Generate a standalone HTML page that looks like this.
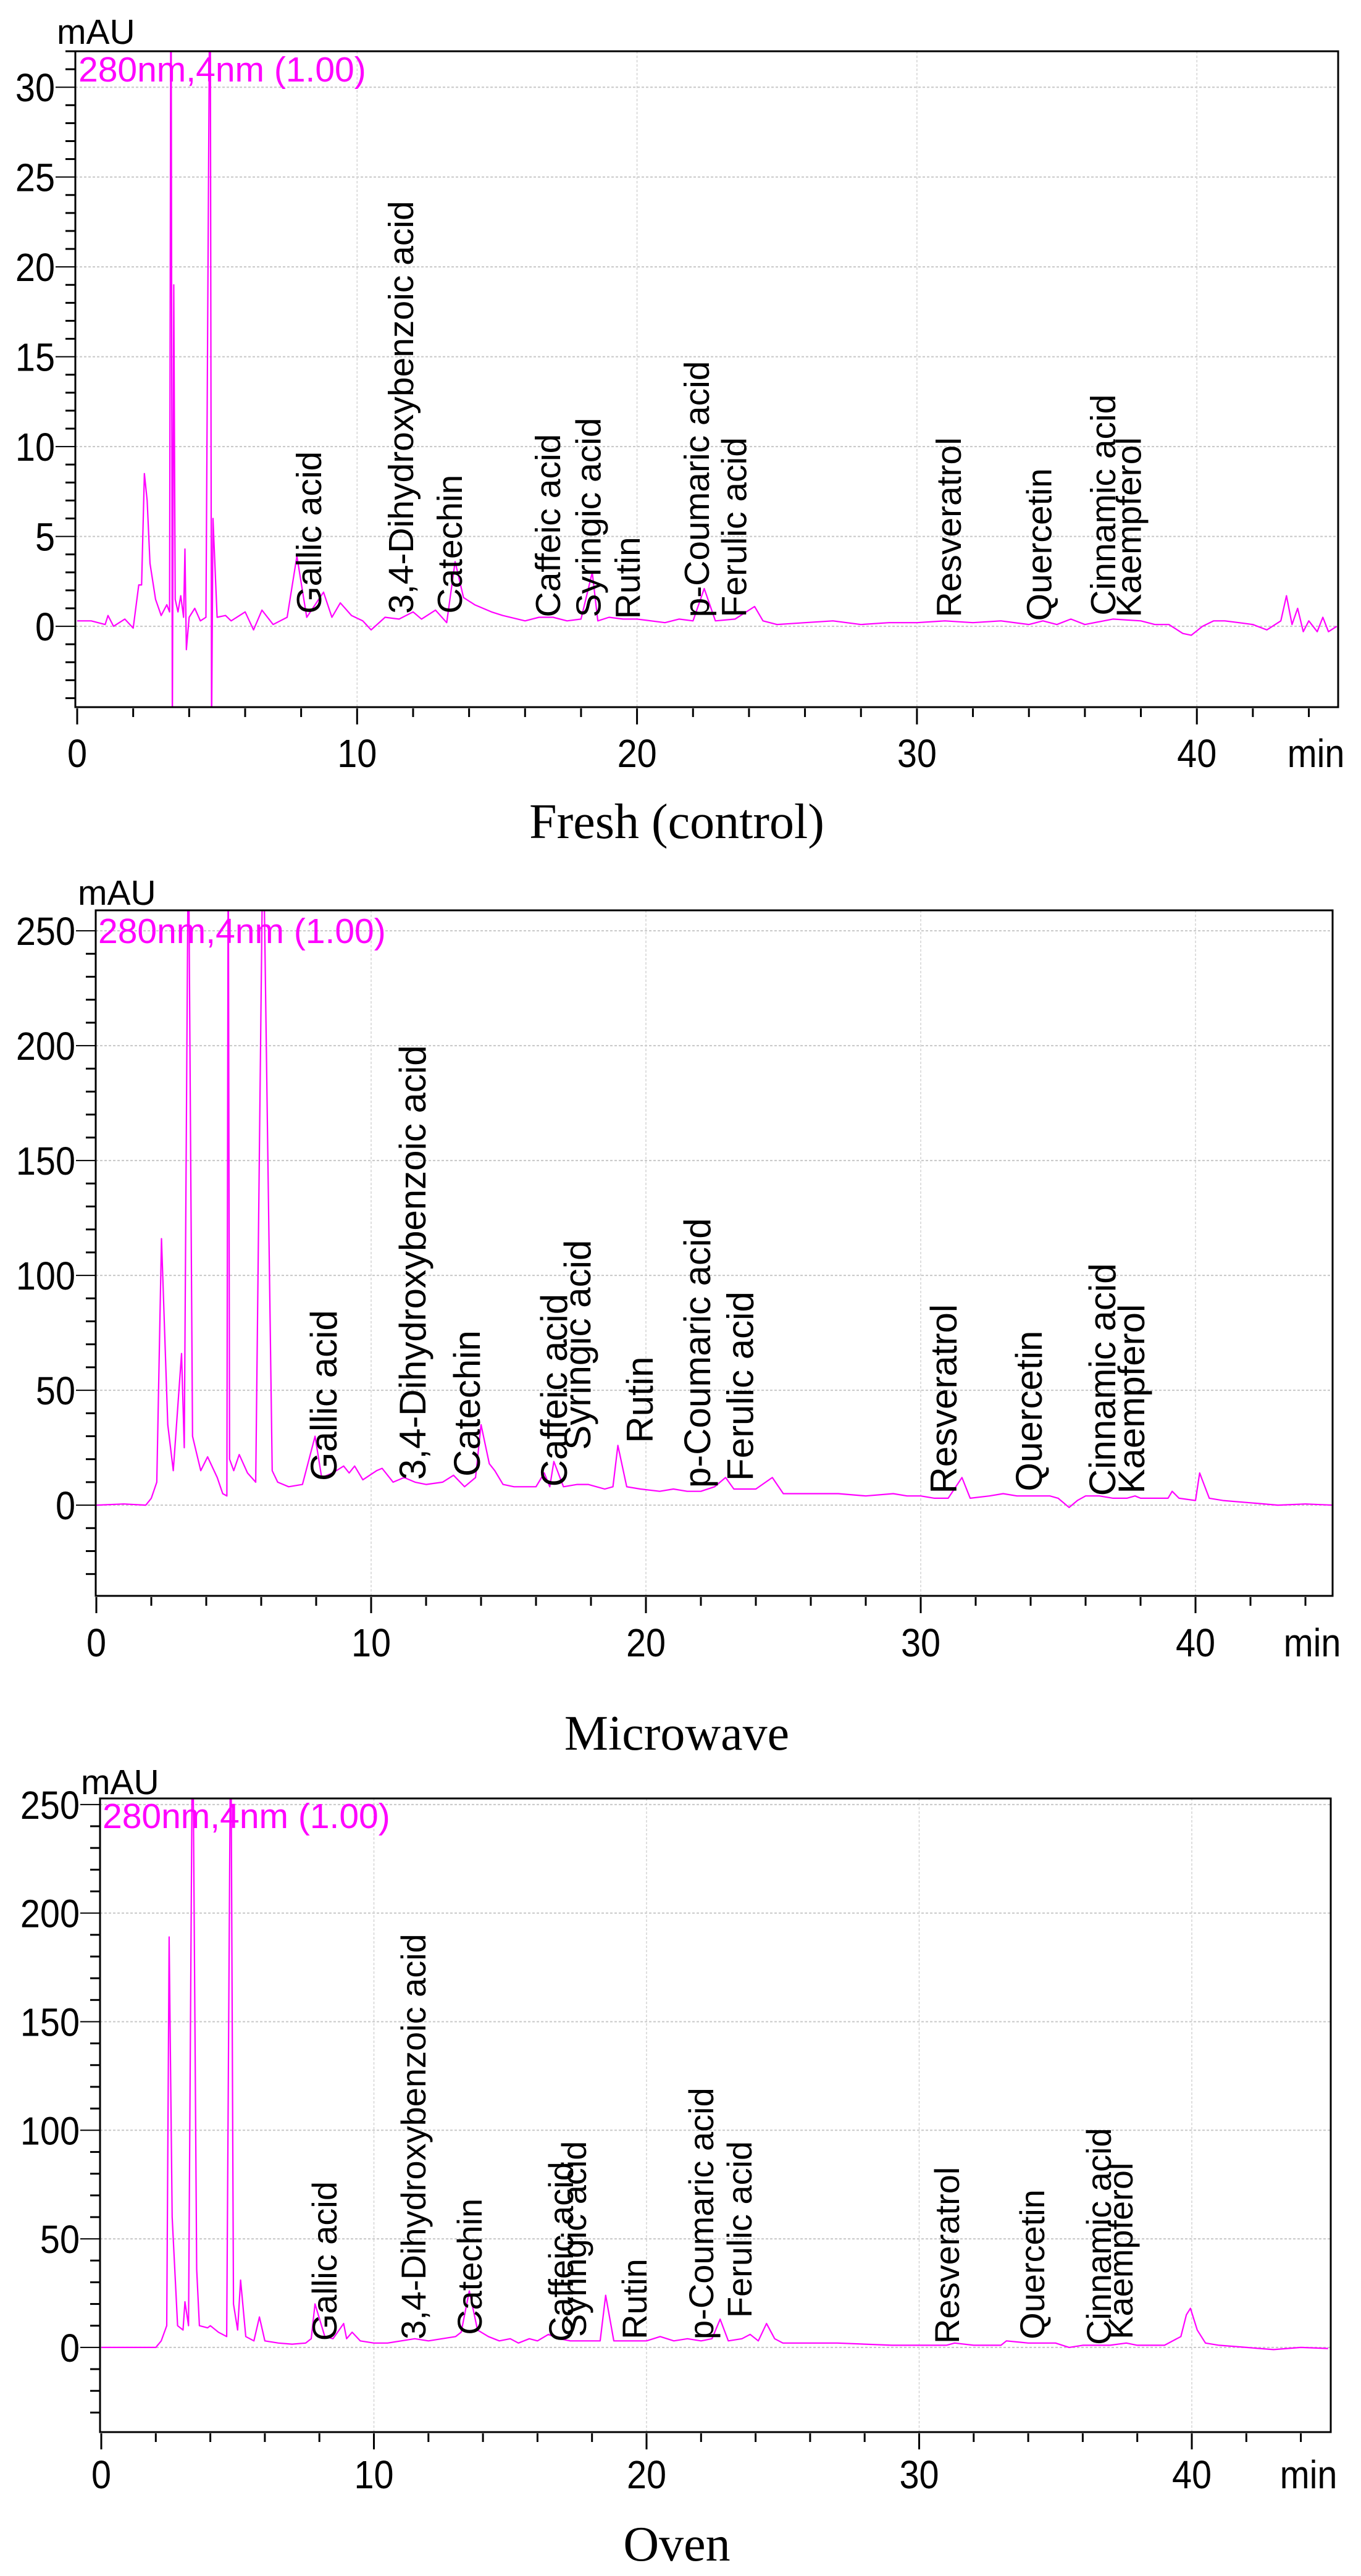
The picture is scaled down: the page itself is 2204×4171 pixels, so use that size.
<!DOCTYPE html>
<html><head><meta charset="utf-8">
<style>
html,body{margin:0;padding:0;background:#fff;}
svg{display:block;}
</style></head>
<body>
<svg id="chart" width="2204" height="4171" viewBox="0 0 2204 4171" xmlns="http://www.w3.org/2000/svg"></svg>
<script>
// ---------- DATA ----------
const compoundNames = ["Gallic acid","3,4-Dihydroxybenzoic acid","Catechin","Caffeic acid","Syringic acid","Rutin","p-Coumaric acid","Ferulic acid","Resveratrol","Quercetin","Cinnamic acid","Kaempferol"];

// Fresh (control)
const freshTimes = [0,0.5,1.0,1.1,1.3,1.7,2.0,2.2,2.3,2.4,2.5,2.6,2.8,3.0,3.2,3.3,3.35,3.4,3.45,3.5,3.6,3.7,3.8,3.85,3.9,4.0,4.2,4.4,4.6,4.75,4.8,4.85,5.0,5.3,5.5,6.0,6.3,6.6,7.0,7.5,7.85,8.2,8.8,9.1,9.4,9.8,10.2,10.5,11,11.5,12,12.3,12.8,13.2,13.5,13.8,14.2,14.8,15.2,16,16.5,17,17.5,18,18.4,18.6,19,19.5,20,21,21.5,22,22.4,22.8,23.5,24.2,24.5,25,26,27,28,29,30,31,32,33,34,34.5,35,35.5,36,37,38,38.5,39,39.5,39.8,40.2,40.6,41,41.5,42,42.5,43,43.2,43.4,43.6,43.8,44,44.3,44.5,44.7,45];
const freshValues = [0.3,0.3,0.1,0.6,0.0,0.4,-0.1,2.3,2.3,8.5,7.0,3.5,1.5,0.6,1.2,0.8,40,-6,19,1.5,0.8,1.7,0.5,4.3,-1.3,0.5,1.0,0.3,0.5,40,-6,6,0.5,0.6,0.3,0.8,-0.2,0.9,0.1,0.5,3.9,0.5,1.9,0.5,1.3,0.6,0.3,-0.2,0.5,0.4,0.8,0.4,0.9,0.2,3.6,1.6,1.2,0.8,0.6,0.3,0.5,0.5,0.3,0.4,3.0,0.3,0.5,0.4,0.4,0.2,0.4,0.3,2.1,0.3,0.4,1.1,0.3,0.1,0.2,0.3,0.1,0.2,0.2,0.3,0.2,0.3,0.1,0.3,0.1,0.4,0.1,0.4,0.3,0.1,0.1,-0.4,-0.5,0.0,0.3,0.3,0.2,0.1,-0.2,0.3,1.7,0.1,1.0,-0.3,0.3,-0.3,0.5,-0.3,0.0];
const freshLabelTimes = [8.71,12.0,13.74,17.25,18.7,20.1,22.57,23.9,31.57,34.8,37.08,38.0];
const freshLabelBase = [0.7,0.7,0.7,0.5,0.5,0.4,0.5,0.5,0.5,0.3,0.6,0.5];

// Microwave
const microTimes = [0,1.0,1.8,2.0,2.2,2.37,2.6,2.8,3.1,3.2,3.35,3.5,3.6,3.8,4.05,4.4,4.6,4.75,4.8,4.85,5.0,5.2,5.5,5.8,6.07,6.4,6.6,7,7.5,7.96,8.2,8.6,9.0,9.2,9.4,9.7,10.2,10.4,10.8,11.2,11.6,12,12.6,13.0,13.4,13.8,14.0,14.3,14.5,14.8,15.2,16,16.3,16.5,16.65,17,17.5,17.9,18.2,18.5,18.8,18.98,19.3,19.8,20.5,21,21.5,22,22.5,22.9,23.2,24,24.6,25,26,27,28,29,29.5,30,30.5,31,31.5,31.8,32.5,33,33.5,34,34.7,35,35.4,35.7,36,36.5,37,37.5,37.8,38,39,39.15,39.4,40,40.15,40.5,41,42,43,44,45];
const microValues = [0,0.5,0,3,10,116,35,15,66,25,300,30,25,15,21,12,5,4,300,20,15,22,14,10,300,15,10,8,9,30,12,14,17,14,17,11,15,16,10,12,10,9,10,13,8,12,35,18,15,9,8,8,14,8,19,8,9,9,8,7,8,26,8,7,6,7,6,6,8,12,7,7,12,5,5,5,4,5,4,4,3,3,12,3,4,5,4,4,4,3,-1,2,4,4,3,3,4,3,3,6,3,2,14,3,2,1,0,0.5,0];
const microLabelTimes = [8.74,11.98,13.96,17.12,17.98,20.25,22.34,23.9,31.3,34.4,37.08,38.13];
const microLabelBase = [10.5,11,12.4,8,24,27,7.5,10.5,5,6,4,5];

// Oven
const ovenTimes = [0,1.0,2.0,2.2,2.4,2.49,2.6,2.8,3.0,3.07,3.2,3.35,3.5,3.6,3.9,4.0,4.3,4.6,4.75,4.85,5.0,5.11,5.3,5.6,5.8,6.0,6.5,7,7.5,7.7,7.84,8.2,8.5,8.89,9.0,9.2,9.5,10,10.5,11,11.5,12,12.5,13,13.2,13.5,13.8,14.2,14.6,15,15.3,15.7,16,16.4,16.8,17.2,18,18.3,18.5,18.8,19.5,20,20.5,21,21.5,22,22.4,22.7,23,23.5,23.8,24.1,24.4,24.7,25,26,27,28,29,30,31,31.3,32,33,33.2,34,35,35.5,36,37,37.6,38,39,39.6,39.8,39.95,40.2,40.5,41,42,43,44,45];
const ovenValues = [0,0,0,3,10,189,60,10,8,21,10,300,36,10,9,10,7,5,300,20,8,31,5,3,14,3,2,1.5,2,4,20,5,4,11,4,7,3,2,2,3,4,3,4,5,7,26,8,5,3,4,2,4,3,6,4,3,3,3,24,3,3,3,5,3,4,3,4,13,3,4,6,3,11,4,2,2,2,1.5,1,1,1,2,1,1,3,2,2,0,1,1,2,1,1,5,15,18,8,2,1,0,-1,0,-0.5];
const ovenLabelTimes = [8.63,11.89,13.95,17.3,17.78,20.0,22.45,23.85,31.46,34.59,37.03,37.83];
const ovenLabelBase = [3,3.7,5.7,2.6,4.8,3.7,3.7,13.6,1.7,3.7,1.1,3.7];

const yTicksFresh = [0,5,10,15,20,25,30];
const yTicks250 = [0,50,100,150,200,250];
const xTicks = [0,10,20,30,40];

// ---------- LAYOUT ----------
const NS = "http://www.w3.org/2000/svg";
const svg = document.getElementById('chart');
const MAG = "#ff00ff";

const panels = [
  {key:'fresh', title:'Fresh (control)', times:freshTimes, values:freshValues, lt:freshLabelTimes, lb:freshLabelBase, yTicks:yTicksFresh, yMinorStep:1,
   left:122, right:2167, top:83, bottom:1145, x0px:125, xpx:45.33, ymin:-4.5, ymax:32.0, labFont:57,
   mauX:92, mauY:71, nmX:127, nmY:132, tickLabY:1242, minX:2131, titleY:1357},
  {key:'microwave', title:'Microwave', times:microTimes, values:microValues, lt:microLabelTimes, lb:microLabelBase, yTicks:yTicks250, yMinorStep:10,
   left:155, right:2158, top:1474, bottom:2584, x0px:156, xpx:44.5, ymin:-39.5, ymax:258.9, labFont:60,
   mauX:126, mauY:1465, nmX:159, nmY:1527, tickLabY:2682, minX:2125, titleY:2833},
  {key:'oven', title:'Oven', times:ovenTimes, values:ovenValues, lt:ovenLabelTimes, lb:ovenLabelBase, yTicks:yTicks250, yMinorStep:10,
   left:162, right:2155, top:2912, bottom:3938, x0px:164, xpx:44.15, ymin:-39, ymax:252.8, labFont:56,
   mauX:131, mauY:2905, nmX:166, nmY:2960, tickLabY:4029, minX:2119, titleY:4146}
];

function mk(tag, attrs, parent){
  const e = document.createElementNS(NS, tag);
  for (const k in attrs) e.setAttribute(k, attrs[k]);
  (parent||svg).appendChild(e);
  return e;
}
// narrow tick-label text: scale horizontally around anchor point
function narrowText(parent, x, y, anchor, str, size){
  const t = mk('text', {x:0, y:0, 'text-anchor':anchor, 'font-family':'Liberation Sans, sans-serif', 'font-size':size, fill:'#000',
    transform:'translate(' + x.toFixed(1) + ' ' + y.toFixed(1) + ') scale(0.9 1)'}, parent);
  t.textContent = str;
  return t;
}

panels.forEach((p, pi) => {
  const xs = t => p.x0px + t * p.xpx;
  const ys = v => p.bottom - (v - p.ymin) / (p.ymax - p.ymin) * (p.bottom - p.top);

  const g = mk('g', {});
  
  

  const defs = mk('defs', {}, g);
  const cp = mk('clipPath', {id:'clip' + pi}, defs);
  mk('rect', {x:p.left, y:p.top, width:p.right - p.left, height:p.bottom - p.top}, cp);

  p.yTicks.forEach(v => {
    const gl = mk('line', {x1:p.left, x2:p.right, y1:ys(v), y2:ys(v), stroke:'#c8c8c8', 'stroke-width':2, 'stroke-dasharray':'4,3'}, g);
    
    
  });
  xTicks.forEach(t => {
    if (t === 0) return;
    const gl = mk('line', {x1:xs(t), x2:xs(t), y1:p.top, y2:p.bottom, stroke:'#d4d4d4', 'stroke-width':1.5, 'stroke-dasharray':'4,3'}, g);
    
    
  });

  const pts = p.times.map((t, i) => xs(t).toFixed(1) + ',' + ys(p.values[i]).toFixed(1)).join(' ');
  const tr = mk('polyline', {points:pts, fill:'none', stroke:MAG, 'stroke-width':2.2, 'clip-path':'url(#clip' + pi + ')', 'stroke-linejoin':'round'}, g);
  
  

  const fr = mk('rect', {x:p.left, y:p.top, width:p.right - p.left, height:p.bottom - p.top, fill:'none', stroke:'#000', 'stroke-width':3}, g);
  
  

  const yStart = Math.ceil(p.ymin / p.yMinorStep) * p.yMinorStep;
  for (let v = yStart; v <= p.ymax; v += p.yMinorStep) {
    const major = p.yTicks.indexOf(v) >= 0;
    const tk = mk('line', {x1:p.left - (major ? 32 : 16), x2:p.left, y1:ys(v), y2:ys(v), stroke:'#000', 'stroke-width':major ? 2 : 3}, g);
    
    
  }
  p.yTicks.forEach(v => {
    const tl = narrowText(g, p.left - 33, ys(v) + 23, 'end', String(v), 64);
    
    
  });

  for (let t = 0; t <= 45; t += 2) {
    const major = (t % 10 === 0);
    const tk = mk('line', {x1:xs(t), x2:xs(t), y1:p.bottom + 2, y2:p.bottom + (major ? 28 : 16), stroke:'#000', 'stroke-width':3}, g);
    
    
  }
  xTicks.forEach(t => {
    const tl = narrowText(g, xs(t), p.tickLabY, 'middle', String(t), 64);
    
    
  });
  const mn = narrowText(g, p.minX, p.tickLabY, 'middle', 'min', 64);
  
  

  const mau = mk('text', {x:p.mauX, y:p.mauY, 'font-family':'Liberation Sans, sans-serif', 'font-size':57, fill:'#000'}, g);
  mau.textContent = 'mAU';
  
  

  const nm = mk('text', {x:p.nmX, y:p.nmY, 'font-family':'Liberation Sans, sans-serif', 'font-size':57, fill:MAG}, g);
  nm.textContent = '280nm,4nm (1.00)';
  
  

  compoundNames.forEach((name, i) => {
    const X = xs(p.lt[i]), Y = ys(p.lb[i]);
    const lab = mk('text', {x:X, y:Y, transform:'rotate(-90 ' + X.toFixed(1) + ' ' + Y.toFixed(1) + ')', 'font-family':'Liberation Sans, sans-serif', 'font-size':p.labFont, fill:'#000'}, g);
    lab.textContent = name;
    
    
  });

  const tt = mk('text', {x:1096, y:p.titleY, 'text-anchor':'middle', 'font-family':'Liberation Serif, serif', 'font-size':80, fill:'#000'}, g);
  tt.textContent = p.title;
  
  
});
</script>
</body></html>
